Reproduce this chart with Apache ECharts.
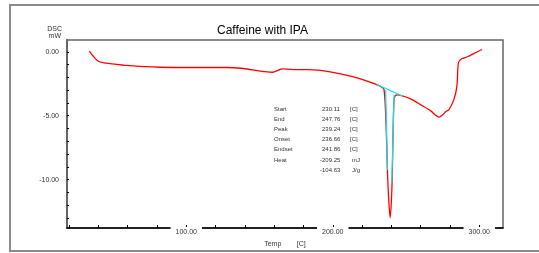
<!DOCTYPE html>
<html>
<head>
<meta charset="utf-8">
<script src="https://cdn.jsdelivr.net/npm/echarts@6/dist/echarts.min.js"></script>
<style>
  html, body { margin: 0; padding: 0; background: #fff; }
  #chart { width: 539px; height: 253px; }
</style>
</head>
<body>
<div id="chart"></div>
<script>
// DSC trace (temp in C, heat flow in mW)
const temps = [33.9, 36.4, 40.0, 43.9, 48.0, 59.4, 82.2, 104.8, 127.8, 139.0, 150.6, 158.6, 161.6, 165.5,
  173.2, 182.6, 191.7, 205.3, 216.8, 227.9, 232.7, 235.0, 236.5, 237.3, 238.2, 239.2, 240.2, 240.7,
  241.2, 241.8, 242.6, 244.1, 247.5, 253.2, 260.1, 266.9, 272.6, 275.1, 277.2, 279.2, 282.6, 284.7,
  285.8, 287.9, 292.0, 296.5, 301.8];
const dsc = [0.05, -0.33, -0.74, -0.86, -0.92, -1.07, -1.21, -1.23, -1.23, -1.31, -1.52, -1.60, -1.50, -1.33,
  -1.39, -1.39, -1.46, -1.72, -2.04, -2.48, -2.72, -2.96, -6.1, -9.22, -11.57, -12.98, -11.2, -9.22,
  -6.1, -3.76, -3.45, -3.37, -3.45, -3.68, -4.15, -4.62, -5.11, -4.93, -4.67, -4.54, -3.76, -2.72,
  -0.86, -0.55, -0.39, -0.13, 0.18];

// analysis lines (cyan)
const baseX = [230.11, 247.76];
const baseY = [-2.56, -3.48];
const onsetX = [236.1, 237.3];
const onsetY = [-3.0, -9.22];
const endsetX = [241.86, 240.3];
const endsetY = [-3.35, -10.26];

// result table
const resLabels = ['Start', 'End', 'Peak', 'Onset', 'Endset', 'Heat', ''];
const resValues = ['230.11', '247.76', '239.24', '236.66', '241.86', '-209.25', '-104.63'];
const resUnits = ['[C]', '[C]', '[C]', '[C]', '[C]', 'mJ', 'J/g'];

const xTicks = [20, 40, 60, 80, 100, 120, 140, 160, 180, 200, 220, 240, 260, 280, 300];
const xLabels = [100, 200, 300];
const yTicks = [0, -1, -2, -3, -4, -5, -6, -7, -8, -9, -10, -11, -12, -13];
const yLabels = [0, -5, -10];

const zip = (a, b) => a.map((v, i) => [v, b[i]]);

const chart = echarts.init(document.getElementById('chart'));

const font = 'Liberation Sans, Arial, sans-serif';
const graphics = [
  { type: 'rect', shape: { x: 10, y: 5, width: 545, height: 246 }, style: { fill: 'none', stroke: '#8a8a8a', lineWidth: 2 }, z: 0 },
  { type: 'text', right: 539 - 62, top: 26, style: { text: 'DSC', font: '7px ' + font, fill: '#333', textAlign: 'right' } },
  { type: 'text', right: 539 - 61, top: 33, style: { text: 'mW', font: '7px ' + font, fill: '#333', textAlign: 'right' } }
];
resLabels.forEach((t, i) => {
  const y = 106 + i * 10.2;
  if (t) graphics.push({ type: 'text', left: 274, top: y, style: { text: t, font: '6px ' + font, fill: '#333' } });
  graphics.push({ type: 'text', left: resValues[i].startsWith('-') ? 320 : 322, top: y, style: { text: resValues[i], font: '6px ' + font, fill: '#333' } });
  graphics.push({ type: 'text', left: i < 5 ? 350 : 352, top: y, style: { text: resUnits[i], font: '6px ' + font, fill: '#333' } });
});

const option = {
  animation: false,
  title: {
    text: 'Caffeine with IPA',
    left: 212, top: 20,
    textStyle: { fontSize: 12, fontWeight: 'normal', color: '#000', fontFamily: font }
  },
  grid: {
    left: 67, top: 40, right: 36, bottom: 25,
    show: true, borderColor: '#666', borderWidth: 1.5, backgroundColor: 'transparent'
  },
  graphic: graphics,
  xAxis: {
    type: 'value', min: 18.6, max: 316.2, splitLine: { show: false },
    name: 'Temp        [C]', nameLocation: 'middle', nameGap: 10,
    nameTextStyle: { fontSize: 7, color: '#333', fontFamily: font },
    axisLine: { show: true, onZero: false, lineStyle: { color: '#000', width: 1.5 } },
    axisTick: { show: true, inside: true, length: 3, customValues: xTicks, lineStyle: { color: '#000' } },
    axisLabel: {
      customValues: xLabels, formatter: v => v.toFixed(2),
      fontSize: 7, color: '#333', fontFamily: font, margin: -1,
      backgroundColor: '#fff', padding: [2, 5, 0, 5]
    }
  },
  yAxis: {
    type: 'value', min: -13.78, max: 0.92, splitLine: { show: false },
    axisLine: { show: true, onZero: false, lineStyle: { color: '#666', width: 2 } },
    axisTick: { show: true, inside: true, length: 2, customValues: yTicks, lineStyle: { color: '#000' } },
    axisLabel: {
      customValues: yLabels, formatter: v => v.toFixed(2),
      fontSize: 7, color: '#333', fontFamily: font, margin: 8
    }
  },
  series: [
    {
      type: 'line', data: zip(temps, dsc), showSymbol: false, smooth: 0.3,
      lineStyle: { color: '#ff0000', width: 1.3 }, z: 3
    },
    {
      type: 'line', data: zip(baseX, baseY), showSymbol: false,
      lineStyle: { color: '#00e8f0', width: 1.3 }, z: 4
    },
    {
      type: 'line', data: zip(onsetX, onsetY), showSymbol: false,
      lineStyle: { color: '#00e8f0', width: 1.2 }, z: 4
    },
    {
      type: 'line', data: zip(endsetX, endsetY), showSymbol: false,
      lineStyle: { color: '#00e8f0', width: 1.2 }, z: 4
    }
  ]
};

chart.setOption(option);
</script>
</body>
</html>
